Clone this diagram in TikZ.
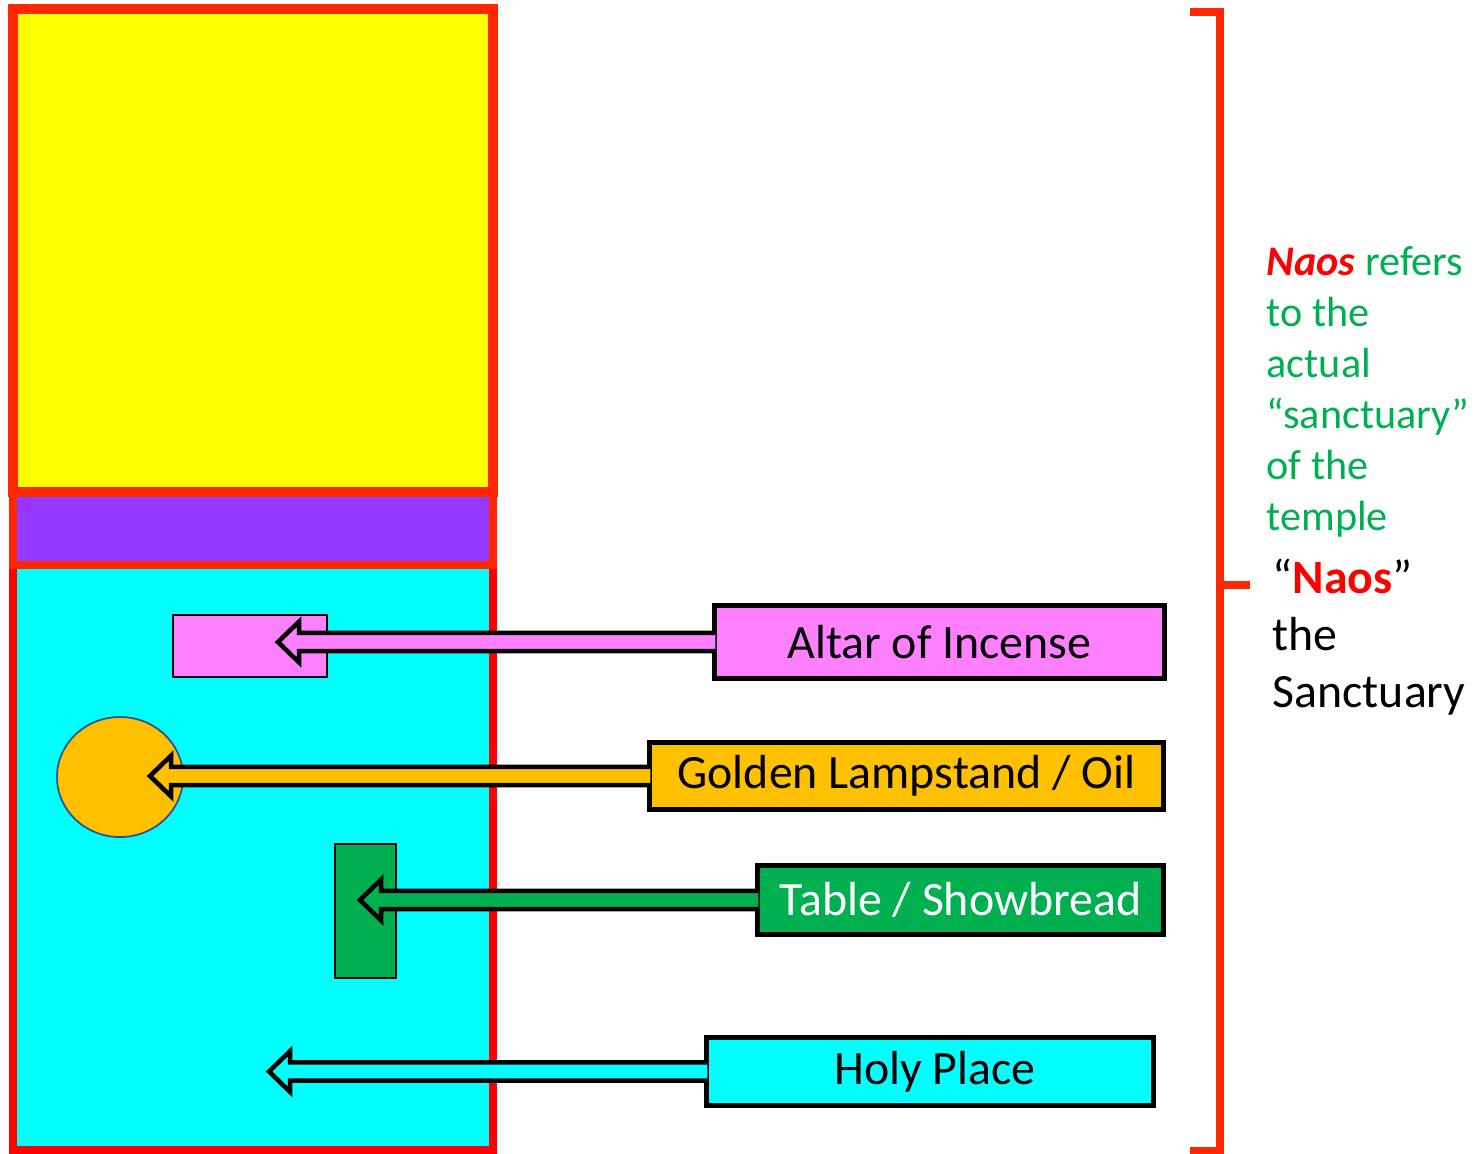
\documentclass[tikz,border=0pt]{standalone}
\usepackage{fontspec}
\setmainfont{Carlito}
\usetikzlibrary{calc,shapes.geometric}
\definecolor{wallred}{RGB}{255,38,0}
\definecolor{naosred}{RGB}{255,0,0}
\definecolor{holycyan}{RGB}{0,255,255}
\definecolor{veilpurple}{RGB}{148,55,255}
\definecolor{innergold}{RGB}{255,255,0}
\definecolor{altarpink}{RGB}{255,128,255}
\definecolor{lampgold}{RGB}{255,192,0}
\definecolor{breadgreen}{RGB}{0,176,80}
\definecolor{lampblue}{RGB}{47,82,143}
% seta larga: cor, caixa de origem, ponta
\newcommand{\pointer}[3]{%
  \draw[pointer, fill=#1] let \p1=(#2.west), \p2=(#3) in
    (\x1+1pt,\y1+2.6pt) -- (\x2+6pt,\y1+2.6pt) -- (\x2+6pt,\y1+5.8pt)
    -- (\x2,\y1) -- (\x2+6pt,\y1-5.8pt) -- (\x2+6pt,\y1-2.6pt) -- (\x1+1pt,\y1-2.6pt);
}
\begin{document}
\begin{tikzpicture}[x=0.01cm, y=-0.01cm,
    tag/.style={draw=black, line width=1.4pt, inner sep=0pt, font=\fontsize{13.6}{16}\selectfont},
    item/.style={draw=black, line width=0.6pt, inner sep=0pt},
    pointer/.style={draw=black, line width=1.3pt, line join=miter}]
    \useasboundingbox (0,0) rectangle (1475,1154);

    % Planta
    \draw[fill=holycyan, draw=naosred, line width=2.3pt] (13,565) rectangle (493,1150);
    \draw[fill=veilpurple, draw=wallred, line width=2.5pt] (13,492) rectangle (493,565);
    \draw[fill=innergold, draw=wallred, line width=2.85pt] (13,9) rectangle (493,492);

    % Objetos
    \node[item, fill=altarpink, minimum width=1.54cm, minimum height=0.62cm] (altar) at (250,646) {};
    \node[ellipse, draw=lampblue, line width=0.5pt, fill=lampgold, inner sep=0pt,
          minimum width=1.26cm, minimum height=1.2cm] (lamp) at (120,777) {};
    \node[item, fill=breadgreen, minimum width=0.61cm, minimum height=1.34cm] (table) at (365.5,911) {};

    % Caixas
    \node[tag, fill=altarpink, minimum width=4.5cm, minimum height=0.73cm] (altarlabel) at (939.5,642) {Altar of Incense\hspace{3pt}};
    \node[tag, fill=lampgold, minimum width=5.14cm, minimum height=0.67cm] (lamplabel) at (906.5,776) {Golden Lampstand / Oil};
    \node[tag, fill=breadgreen, text=white, minimum width=4.06cm, minimum height=0.69cm] (tablelabel) at (960.5,900) {Table / Showbread};
    \node[tag, fill=holycyan, minimum width=4.47cm, minimum height=0.68cm] (holylabel) at (930,1071.5) {\hspace{2.8pt}Holy Place};

    % Pontas das setas
    \coordinate (altartip) at (278,642);
    \coordinate (lamptip) at (150,776);
    \coordinate (tabletip) at (360,900);
    \coordinate (holytip) at (269,1071.5);

    % Setas
    \pointer{altarpink}{altarlabel}{altartip}
    \pointer{lampgold}{lamplabel}{lamptip}
    \pointer{breadgreen}{tablelabel}{tabletip}
    \pointer{holycyan}{holylabel}{holytip}

    % Chave
    \draw[wallred, line width=2pt] (1190,12) -- (1220,12) -- (1220,1151) -- (1190,1151);
    \draw[wallred, line width=2pt] (1220,585) -- (1250,585);

    % Textos
    \node[anchor=base west, align=left, text=breadgreen, inner sep=0pt,
          font=\fontsize{12}{14.5}\selectfont] (naosnote) at (1266,530)
        {\textcolor{naosred}{\textbf{\textit{Naos}}} refers\\to the\\actual\\“sanctuary”\\of the\\temple};
    \node[anchor=base west, align=left, inner sep=0pt,
          font=\fontsize{13.6}{16.2}\selectfont] (naosname) at (1272,707)
        {“\textcolor{naosred}{\textbf{Naos}}”\\the\\Sanctuary};
\end{tikzpicture}
\end{document}
